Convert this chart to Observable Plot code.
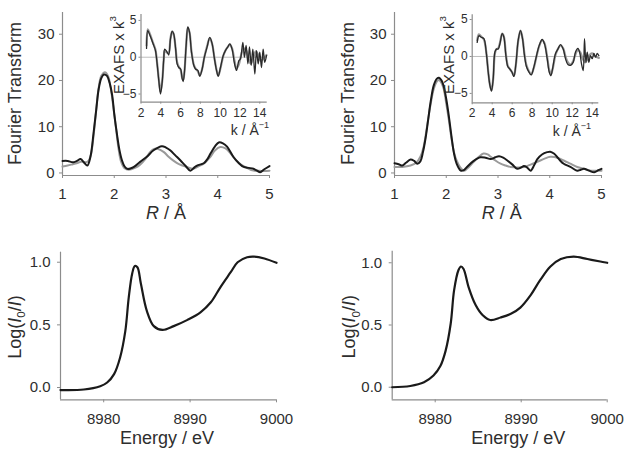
<!DOCTYPE html>
<html><head><meta charset="utf-8">
<script src="https://cdn.jsdelivr.net/npm/d3@7"></script>
<script src="https://cdn.jsdelivr.net/npm/@observablehq/plot@0.6"></script>
<style>
body{margin:0;background:#fff;}
#fig{position:relative;width:629px;height:454px;overflow:hidden;background:#fff;}
#fig svg{position:absolute;}
</style></head><body><div id="fig"></div>
<script>
// ---------- data ----------
const ftXTicks = [1, 2, 3, 4, 5];
const ftYTicks = [0, 10, 20, 30];
const kTicks = [2, 4, 6, 8, 10, 12, 14];
const chiTicks = [-5, 0, 5];
const eTicks = [8980, 8990, 9000];
const muTicks = [0, 0.5, 1.0];

// Fourier transform, left sample: experiment (black) and fit (grey) [R, |FT|]
const ftLeftExp = [[1.0,2.6],[1.1,2.6],[1.2,2.3],[1.28,2.6],[1.35,3.0],[1.42,2.2],[1.48,1.6],[1.54,3.5],[1.6,8.6],[1.65,13.5],[1.7,18.2],[1.75,20.5],[1.8,21.3],[1.86,21.0],[1.91,19.5],[1.96,16.8],[2.0,12.8],[2.05,8.6],[2.1,5.0],[2.15,2.7],[2.2,1.4],[2.25,0.9],[2.32,1.0],[2.38,1.3],[2.5,2.4],[2.63,3.5],[2.76,4.9],[2.92,5.8],[3.0,5.5],[3.08,4.9],[3.18,3.8],[3.28,2.7],[3.38,1.5],[3.47,0.5],[3.55,1.2],[3.6,1.6],[3.73,2.1],[3.8,3.0],[3.86,4.2],[3.95,5.8],[4.02,6.6],[4.1,6.4],[4.18,5.7],[4.3,3.5],[4.4,2.2],[4.5,1.3],[4.6,1.1],[4.69,0.9],[4.76,0.5],[4.82,0.15],[4.9,0.8],[5.0,1.5]];
const ftLeftFit = [[1.0,1.4],[1.1,1.6],[1.2,1.9],[1.3,2.2],[1.38,2.5],[1.45,2.3],[1.5,2.6],[1.55,4.0],[1.6,8.0],[1.65,13.5],[1.7,18.5],[1.75,21.0],[1.82,21.8],[1.88,21.0],[1.93,18.5],[1.98,14.5],[2.03,10.0],[2.08,5.5],[2.13,2.5],[2.2,1.0],[2.28,0.7],[2.4,1.1],[2.5,1.8],[2.6,3.0],[2.7,4.6],[2.77,5.2],[2.85,5.2],[2.96,4.5],[3.05,3.5],[3.15,2.6],[3.25,1.9],[3.4,1.3],[3.53,0.9],[3.62,1.4],[3.73,2.0],[3.85,3.4],[3.95,4.9],[4.05,5.6],[4.15,5.3],[4.25,4.2],[4.35,2.8],[4.45,1.8],[4.55,1.2],[4.69,0.5],[4.8,0.5],[4.9,0.4],[5.0,0.5]];

// Fourier transform, right sample
const ftRightExp = [[1.0,2.1],[1.08,1.9],[1.15,1.6],[1.22,2.2],[1.31,2.9],[1.38,2.6],[1.44,2.0],[1.5,2.5],[1.55,4.5],[1.6,7.5],[1.65,11.5],[1.7,15.5],[1.76,19.0],[1.82,20.4],[1.86,20.6],[1.91,20.0],[1.95,18.8],[2.0,16.0],[2.05,12.3],[2.1,8.0],[2.15,4.2],[2.2,2.0],[2.28,0.5],[2.34,0.6],[2.4,1.3],[2.53,2.6],[2.66,3.4],[2.76,3.3],[2.86,3.0],[2.95,3.4],[3.02,3.6],[3.1,3.3],[3.18,2.7],[3.28,1.8],[3.37,0.9],[3.45,1.2],[3.5,1.5],[3.56,1.2],[3.63,0.5],[3.7,1.7],[3.76,3.0],[3.85,4.0],[3.95,4.5],[4.01,4.6],[4.08,4.2],[4.14,3.5],[4.2,2.7],[4.27,2.0],[4.4,1.3],[4.53,0.5],[4.6,0.7],[4.66,0.9],[4.76,0.5],[4.86,0.15],[4.94,0.6],[5.0,0.9]];
const ftRightFit = [[1.0,1.3],[1.15,1.3],[1.31,1.6],[1.42,2.2],[1.5,3.5],[1.56,5.5],[1.62,9.4],[1.7,15.0],[1.76,18.2],[1.82,19.8],[1.86,20.1],[1.9,19.6],[1.95,18.2],[2.0,15.0],[2.05,11.5],[2.1,7.5],[2.15,4.5],[2.2,2.7],[2.27,1.2],[2.34,0.5],[2.4,0.9],[2.53,2.4],[2.63,3.5],[2.72,4.2],[2.8,4.0],[2.86,3.5],[2.95,2.7],[3.05,2.0],[3.15,1.6],[3.24,1.3],[3.4,1.2],[3.5,1.3],[3.63,1.8],[3.76,2.4],[3.9,3.1],[4.01,3.5],[4.15,3.3],[4.27,2.7],[4.4,2.0],[4.53,1.3],[4.66,0.9],[4.79,0.5],[4.9,0.5],[5.0,0.5]];

// EXAFS k^3 chi(k), left sample [k, value]
const chiLeftExp = [[2.56,1.2],[2.69,3.6],[2.89,3.0],[3.23,1.8],[3.46,0.9],[3.63,-0.9],[3.8,-3.2],[3.97,-5.0],[4.14,-3.4],[4.3,-0.2],[4.4,1.1],[4.64,0.7],[4.8,0.3],[4.98,2.5],[5.15,3.5],[5.3,3.2],[5.5,1.1],[5.65,-0.9],[5.82,-1.4],[6.0,-1.6],[6.16,-2.9],[6.26,-3.3],[6.39,-2.0],[6.56,1.6],[6.73,4.1],[6.9,3.4],[7.1,0.7],[7.33,-1.1],[7.5,-1.6],[7.74,-1.8],[7.94,-2.6],[8.18,-1.6],[8.4,0.0],[8.68,1.4],[8.95,2.7],[9.19,1.8],[9.42,-0.2],[9.63,-1.8],[9.8,-2.6],[10.03,-1.4],[10.3,0.2],[10.53,0.9],[10.77,1.4],[10.97,1.8],[11.2,1.1],[11.45,-0.9],[11.65,-1.8],[11.88,-0.5],[12.05,-0.2],[12.29,2.0],[12.45,0.0],[12.62,1.6],[12.8,-0.9],[12.96,1.4],[13.13,-1.1],[13.3,1.1],[13.5,-2.3],[13.67,0.9],[13.84,-0.9],[14.0,0.7],[14.17,-1.4],[14.34,1.1],[14.5,-0.7],[14.68,0.2]];
const chiLeftFit = [[2.56,1.6],[2.69,3.8],[2.89,3.2],[3.23,1.9],[3.46,1.0],[3.63,-0.8],[3.8,-3.0],[3.97,-4.7],[4.14,-3.3],[4.3,-0.3],[4.4,0.9],[4.64,0.6],[4.8,0.6],[4.98,2.6],[5.15,3.5],[5.3,3.1],[5.5,1.2],[5.65,-0.7],[5.82,-1.3],[6.0,-1.7],[6.16,-2.8],[6.26,-3.1],[6.39,-2.0],[6.56,1.5],[6.73,4.0],[6.9,3.4],[7.1,0.8],[7.33,-1.0],[7.5,-1.5],[7.74,-1.9],[7.94,-2.5],[8.18,-1.6],[8.4,0.0],[8.68,1.5],[8.95,2.6],[9.19,1.8],[9.42,-0.1],[9.63,-1.7],[9.8,-2.5],[10.03,-1.5],[10.3,0.1],[10.53,0.9],[10.77,1.4],[10.97,1.7],[11.2,1.2],[11.45,-0.5],[11.65,-1.5],[11.88,-1.0],[12.1,0.2],[12.35,1.2],[12.6,1.0],[12.85,-0.2],[13.1,-0.9],[13.35,0.0],[13.6,0.8],[13.85,0.3],[14.1,-0.5],[14.35,-0.2],[14.68,0.3]];

// EXAFS k^3 chi(k), right sample
const chiRightExp = [[2.5,1.9],[2.67,2.8],[2.9,2.6],[3.17,2.4],[3.4,0.6],[3.6,-2.1],[3.77,-3.9],[3.93,-4.7],[4.1,-3.0],[4.27,0.6],[4.43,1.0],[4.6,1.0],[4.77,1.7],[5.0,3.1],[5.17,2.6],[5.37,0.1],[5.57,-1.4],[5.77,-1.7],[5.97,-2.1],[6.17,-2.7],[6.37,-1.0],[6.6,2.2],[6.83,3.5],[7.03,2.4],[7.23,0.1],[7.43,-1.4],[7.67,-2.1],[7.9,-2.5],[8.17,-1.4],[8.43,0.1],[8.7,1.5],[9.0,2.3],[9.23,1.7],[9.5,-0.3],[9.7,-2.1],[9.87,-2.6],[10.03,-1.7],[10.33,0.4],[10.57,1.0],[10.83,1.6],[11.1,1.0],[11.33,-0.3],[11.57,-1.1],[11.83,-1.2],[12.1,-0.8],[12.33,0.6],[12.57,1.1],[12.77,0.4],[12.93,-1.0],[13.1,-1.9],[13.23,2.4],[13.37,-0.8],[13.5,0.6],[13.67,-0.8],[13.83,0.1],[14.0,-0.3],[14.17,0.4],[14.33,-0.1],[14.5,0.4],[14.67,0.1]];
const chiRightFit = [[2.5,2.2],[2.67,3.0],[2.9,2.7],[3.17,2.3],[3.4,0.7],[3.6,-2.0],[3.77,-3.8],[3.93,-4.6],[4.1,-3.0],[4.27,0.4],[4.43,1.0],[4.6,1.1],[4.77,1.8],[5.0,3.1],[5.17,2.7],[5.37,0.3],[5.57,-1.3],[5.77,-1.7],[5.97,-2.1],[6.17,-2.6],[6.37,-1.1],[6.6,2.1],[6.83,3.5],[7.03,2.5],[7.23,0.3],[7.43,-1.2],[7.67,-2.0],[7.9,-2.4],[8.17,-1.5],[8.43,0.0],[8.7,1.4],[9.0,2.2],[9.23,1.8],[9.5,-0.1],[9.7,-1.8],[9.87,-2.4],[10.03,-1.8],[10.33,0.2],[10.57,1.0],[10.83,1.5],[11.1,1.1],[11.33,0.0],[11.57,-0.8],[11.83,-1.1],[12.1,-0.6],[12.33,0.3],[12.57,0.9],[12.8,0.6],[13.05,-0.3],[13.3,-0.8],[13.55,-0.3],[13.8,0.3],[14.05,0.4],[14.3,0.0],[14.67,-0.2]];

// XANES, normalised absorption [energy eV, log(I0/I)]
const xanesLeft = [[8975,-0.02],[8977.7,-0.016],[8979.6,0.01],[8980.4,0.04],[8981.2,0.107],[8981.9,0.24],[8982.5,0.45],[8982.9,0.72],[8983.3,0.91],[8983.6,0.97],[8983.9,0.96],[8984.3,0.83],[8985.0,0.61],[8985.8,0.49],[8986.8,0.46],[8988.1,0.49],[8989.7,0.54],[8991.2,0.60],[8992.4,0.68],[8993.5,0.80],[8994.7,0.92],[8995.5,1.0],[8996.6,1.04],[8997.4,1.045],[8998.6,1.03],[9000,0.995]];
const xanesRight = [[8975,0.0],[8977.1,0.01],[8978.7,0.04],[8979.8,0.094],[8980.6,0.17],[8981.2,0.29],[8981.8,0.51],[8982.2,0.78],[8982.7,0.94],[8983.0,0.97],[8983.3,0.95],[8983.9,0.80],[8984.7,0.66],[8985.5,0.58],[8986.4,0.54],[8987.6,0.56],[8988.8,0.59],[8989.9,0.64],[8991.1,0.74],[8992.2,0.86],[8993.4,0.97],[8994.6,1.03],[8996.1,1.05],[8997.7,1.03],[8999.2,1.01],[9000,1.0]];

// ---------- drawing ----------
const FONT = '"Liberation Sans", Arial, Helvetica, sans-serif';
const TXT = "#2e2e2e";
const AX = "#8c8c8c";
const BLACK = "#1a1a1a";
const GREY = "#9a9a9a";
const fig = document.getElementById("fig");

function place(svg, left, top) {
  svg.style.left = left + "px";
  svg.style.top = top + "px";
  fig.appendChild(svg);
  d3.select(svg).selectAll('g[aria-label$="tick"]').attr("stroke", AX);
  return svg;
}

function addText(svg, x, y, parts, size, rotate) {
  const t = d3.select(svg).append("text")
    .attr("x", x).attr("y", y)
    .attr("text-anchor", "middle")
    .attr("dominant-baseline", "central")
    .attr("font-family", FONT)
    .attr("font-size", size)
    .attr("fill", TXT);
  if (rotate) t.attr("transform", `rotate(-90 ${x} ${y})`);
  parts.forEach(p => {
    const s = t.append("tspan").text(p.t);
    if (p.i) s.attr("font-style", "italic");
    if (p.sub) s.attr("dy", size * 0.3).attr("font-size", size * 0.65);
    if (p.sup) s.attr("dy", -size * 0.38).attr("font-size", size * 0.65);
    if (p.back) s.attr("dy", p.back);
  });
}

const X = d => d[0], Y = d => d[1];

function ftPanel(exp, fit, o) {
  return Plot.plot({
    width: o.w, height: o.h,
    marginLeft: o.mL, marginRight: o.mR, marginTop: o.mT, marginBottom: o.mB,
    style: {background: "transparent", fontFamily: FONT, fontSize: "15px", color: TXT, overflow: "visible"},
    x: {domain: [1, 5], ticks: ftXTicks, tickFormat: d => String(d), tickSize: 3, tickPadding: 10, label: null},
    y: {domain: [-0.55, 34.7], ticks: ftYTicks, tickSize: 3, tickPadding: 5, label: null},
    marks: [
      Plot.ruleX([1], {stroke: AX, strokeWidth: 1.2}),
      Plot.ruleY([-0.55], {stroke: AX, strokeWidth: 1.2}),
      Plot.line(fit, {x: X, y: Y, stroke: GREY, strokeWidth: 2, curve: "catmull-rom"}),
      Plot.line(exp, {x: X, y: Y, stroke: BLACK, strokeWidth: 2, curve: "catmull-rom"})
    ]
  });
}

function insetPanel(exp, fit, o) {
  return Plot.plot({
    width: o.w, height: o.h,
    marginLeft: o.mL, marginRight: o.mR, marginTop: o.mT, marginBottom: o.mB,
    style: {background: "transparent", fontFamily: FONT, fontSize: "12px", color: TXT, overflow: "visible"},
    x: {domain: [2, o.kmax], ticks: kTicks, tickFormat: d => String(d), tickSize: 2, tickPadding: 4, label: null},
    y: {domain: [o.ymin, o.ymax], ticks: chiTicks, tickFormat: d => d < 0 ? "\u2212" + Math.abs(d) : String(d), tickSize: 2, tickPadding: 2.5, label: null},
    marks: [
      Plot.ruleY([0], {stroke: "#bdbdbd", strokeWidth: 1}),
      Plot.ruleX([2], {stroke: AX, strokeWidth: 1.2}),
      Plot.ruleY([o.ymin], {stroke: AX, strokeWidth: 1.2}),
      Plot.line(fit, {x: X, y: Y, stroke: GREY, strokeWidth: 2.2, curve: "catmull-rom"}),
      Plot.line(exp, {x: X, y: Y, stroke: "#2a2a2a", strokeWidth: 1.3, curve: "catmull-rom"})
    ]
  });
}

function xanesPanel(data, o) {
  return Plot.plot({
    width: o.w, height: o.h,
    marginLeft: o.mL, marginRight: o.mR, marginTop: o.mT, marginBottom: o.mB,
    style: {background: "transparent", fontFamily: FONT, fontSize: "15px", color: TXT, overflow: "visible"},
    x: {domain: [8975, 9000], ticks: eTicks, tickFormat: d => String(d), tickSize: 3, tickPadding: 11, label: null},
    y: {domain: [o.ymin, o.ymax], ticks: muTicks, tickFormat: d3.format(".1f"), tickSize: 3, tickPadding: 7, label: null},
    marks: [
      Plot.ruleX([8975], {stroke: AX, strokeWidth: 1.2}),
      Plot.ruleY([o.ymin], {stroke: AX, strokeWidth: 1.2}),
      Plot.line(data, {x: X, y: Y, stroke: BLACK, strokeWidth: 2.2, curve: "catmull-rom"})
    ]
  });
}

// top-left
const tl = place(ftPanel(ftLeftExp, ftLeftFit, {w: 314, h: 230, mL: 62, mR: 45, mT: 12, mB: 55}), 0, 0);
addText(tl, 15, 93.5, [{t: "Fourier Transform"}], 18, true);
addText(tl, 166, 213, [{t: "R", i: true}, {t: " / Å"}], 18);

// top-right
const tr = place(ftPanel(ftRightExp, ftRightFit, {w: 315, h: 230, mL: 80, mR: 28, mT: 12, mB: 55}), 314, 0);
addText(tr, 34.3, 93.5, [{t: "Fourier Transform"}], 18, true);
addText(tr, 187.7, 213, [{t: "R", i: true}, {t: " / Å"}], 18);

// insets
const il = place(insetPanel(chiLeftExp, chiLeftFit, {w: 175, h: 140, mL: 40.5, mR: 8.3, mT: 14, mB: 38.3, kmax: 14.75, ymin: -6.11, ymax: 5.8}), 100, 0);
addText(il, 17.5, 55, [{t: "EXAFS x k"}, {t: "3", sup: true}], 15, true);
addText(il, 150, 130, [{t: "k / Å"}, {t: "\u22121", sup: true}], 14);

const ir = place(insetPanel(chiRightExp, chiRightFit, {w: 175, h: 140, mL: 41.7, mR: 6.7, mT: 14.3, mB: 37.7, kmax: 14.66, ymin: -6.27, ymax: 5.64}), 430, 0);
addText(ir, 18, 55, [{t: "EXAFS x k"}, {t: "3", sup: true}], 15, true);
addText(ir, 142, 131, [{t: "k / Å"}, {t: "\u22121", sup: true}], 14);

// bottom
const bl = place(xanesPanel(xanesLeft, {w: 314, h: 224, mL: 60, mR: 38, mT: 21.7, mB: 54.7, ymin: -0.098, ymax: 1.08}), 0, 230);
addText(bl, 15, 97, [{t: "Log("}, {t: "I", i: true}, {t: "0", sub: true}, {t: "/", back: -18 * 0.3}, {t: "I", i: true}, {t: ")"}], 18, true);
addText(bl, 167, 208.3, [{t: "Energy / eV"}], 18);

const br = place(xanesPanel(xanesRight, {w: 315, h: 224, mL: 77.7, mR: 22.3, mT: 20.7, mB: 54.7, ymin: -0.101, ymax: 1.093}), 314, 230);
addText(br, 35.3, 96.7, [{t: "Log("}, {t: "I", i: true}, {t: "0", sub: true}, {t: "/", back: -18 * 0.3}, {t: "I", i: true}, {t: ")"}], 18, true);
addText(br, 204.3, 208, [{t: "Energy / eV"}], 18);
</script>
</body></html>
